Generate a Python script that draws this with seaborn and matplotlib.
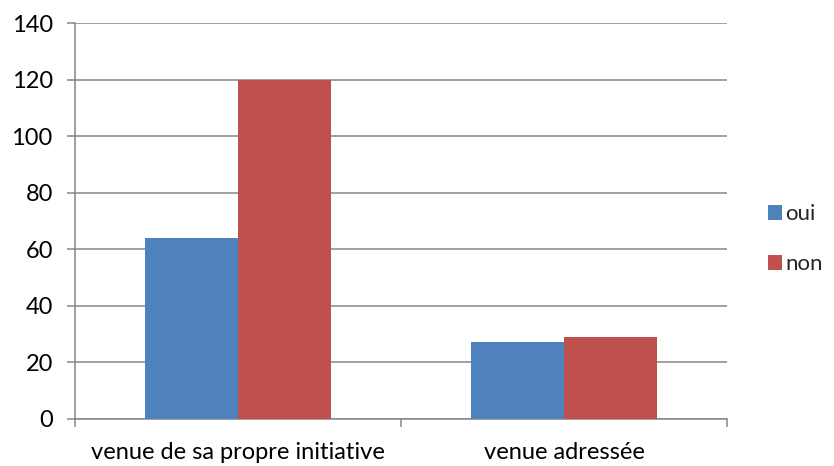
import pandas as pd
import seaborn as sns
import matplotlib.pyplot as plt
from matplotlib.ticker import MultipleLocator

# data
categories = ["venue de sa propre initiative", "venue adressée"]
oui = [64, 27]
non = [120, 29]

df = pd.DataFrame({
    "categorie": categories * 2,
    "reponse": ["oui"] * 2 + ["non"] * 2,
    "n": oui + non,
})

sns.set_style("white")
plt.rcParams['font.family'] = ['Lato', 'DejaVu Sans']
grid_col = "#868686"
fs = 17

fig = plt.figure(figsize=(8.34, 4.66), dpi=100)
ax = fig.add_axes([0.0899, 0.1015, 0.7818, 0.8481])

sns.barplot(data=df, x="categorie", y="n", hue="reponse", order=categories,
            hue_order=["oui", "non"], palette=["#4F81BD", "#C0504D"],
            width=0.57, gap=0, saturation=1, linewidth=0, ax=ax, zorder=3)

ax.set_xlim(-0.5, 1.5)
ax.set_ylim(0, 140)
ax.yaxis.set_major_locator(MultipleLocator(20))
ax.grid(axis="y", color=grid_col, linewidth=1.1, zorder=0)
ax.set_axisbelow(True)
ax.set_xlabel("")
ax.set_ylabel("")

for s in ["top", "right"]:
    ax.spines[s].set_visible(False)
for s in ["left", "bottom"]:
    ax.spines[s].set_color(grid_col)
    ax.spines[s].set_linewidth(1.1)

ax.tick_params(axis="y", left=True, length=6, width=1.1, color=grid_col,
               pad=10, labelsize=fs, labelcolor="black")
ax.tick_params(axis="x", which="major", bottom=False, length=0, pad=17,
               labelsize=fs, labelcolor="black")
ax.set_xticks([-0.5, 0.5, 1.5], minor=True)
ax.tick_params(axis="x", which="minor", bottom=True, length=6, width=1.1,
               color=grid_col)

leg = ax.legend(loc="center left", bbox_to_anchor=(0.907, 0.487),
                bbox_transform=fig.transFigure, frameon=False,
                handlelength=0.65, handleheight=0.65, handletextpad=0.15,
                labelspacing=1.35, fontsize=16, borderpad=0)

fig.savefig("out.png", dpi=100)
